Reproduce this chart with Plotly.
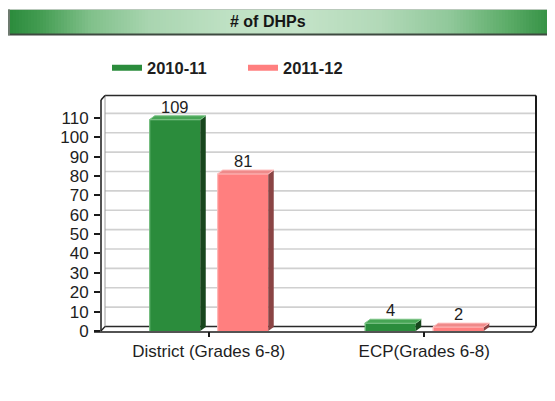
import plotly.graph_objects as go

# ---------------- data ----------------
categories = ["District (Grades 6-8)", "ECP(Grades 6-8)"]
series_names = ["2010-11", "2011-12"]
values_2010_11 = [109, 4]
values_2011_12 = [81, 2]
y_tick_values = [0, 10, 20, 30, 40, 50, 60, 70, 80, 90, 100, 110]
chart_title = "# of DHPs"

# ---------------- styling ----------------
# page body has an 8px margin, so the figure is placed at (8, 8) on screen
OFF = 8
SW, SH = 555, 401                      # screen size
W, H = SW - OFF, SH - OFF              # figure size
S_LEFT, S_RIGHT, S_TOP, S_BOTTOM = 101, 532, 100, 331   # plot area on screen
ML, MR, MT, MB = S_LEFT - OFF, SW - S_RIGHT, S_TOP - OFF, SH - S_BOTTOM
PW, PH = S_RIGHT - S_LEFT, S_BOTTOM - S_TOP
YMAX = 119.2
BARGAP, GROUPGAP = 0.369, 0.25
FONT = "Liberation Sans, Arial, sans-serif"
TXT = "#1e1e1e"

front = ["#2b8c3c", "#ff7f7f"]
side = ["#18461d", "#8a4444"]
top = ["#47a555", "#ef8a8a"]
edge = ["#7cc487", "#ffc0c0"]

series = [values_2010_11, values_2011_12]


def px_x(xp):
    return (xp - S_LEFT) / PW


def px_y(yp):
    return (S_BOTTOM - yp) / PH


def val_y(v):
    return v / YMAX


def cat_x(xd):
    return (xd + 0.5) / len(categories)


fig = go.Figure()
for i, (name, vals) in enumerate(zip(series_names, series)):
    fig.add_trace(go.Bar(x=categories, y=vals, name=name, marker_color=front[i],
                         marker_line_width=0, showlegend=False, hoverinfo="skip"))
for i, name in enumerate(series_names):
    fig.add_trace(go.Scatter(x=[None], y=[None], mode="lines", name=name,
                             line=dict(color=front[i], width=6)))

shapes = []
annotations = []

# ---- title bar (gradient strips) ----
stops = [(8, (0x2a, 0x8a, 0x3b)), (40, (0x43, 0x9c, 0x51)), (90, (0x80, 0xc0, 0x8a)),
         (150, (0xa9, 0xd5, 0xb0)), (230, (0xbf, 0xe1, 0xc4)), (300, (0xc4, 0xe3, 0xc8)),
         (380, (0xb2, 0xd9, 0xb8)), (450, (0x90, 0xc8, 0x9a)), (510, (0x5a, 0xab, 0x66)),
         (560, (0x2a, 0x8a, 0x3b))]


def grad(x):
    for (x0, c0), (x1, c1) in zip(stops[:-1], stops[1:]):
        if x0 <= x <= x1:
            t = (x - x0) / (x1 - x0)
            return "rgb(%d,%d,%d)" % tuple(round(a + (b - a) * t) for a, b in zip(c0, c1))
    return "rgb(42,138,59)"


step = 3
x = 10
while x < 558:
    shapes.append(dict(type="rect", xref="paper", yref="paper", layer="above",
                       x0=px_x(x), x1=px_x(x + step + 0.5), y0=px_y(34), y1=px_y(10),
                       fillcolor=grad(x + step / 2), line_width=0))
    x += step
shapes.append(dict(type="line", xref="paper", yref="paper", layer="above",
                   x0=px_x(8), x1=px_x(560), y0=px_y(9.5), y1=px_y(9.5),
                   line=dict(color="#b9c9bb", width=1)))
shapes.append(dict(type="line", xref="paper", yref="paper", layer="above",
                   x0=px_x(8), x1=px_x(560), y0=px_y(34.5), y1=px_y(34.5),
                   line=dict(color="#3e4a40", width=2)))
shapes.append(dict(type="line", xref="paper", yref="paper", layer="above",
                   x0=px_x(9), x1=px_x(9), y0=px_y(9.5), y1=px_y(35),
                   line=dict(color="#6d7a6f", width=2)))
annotations.append(dict(xref="paper", yref="paper", x=px_x(268), y=px_y(21.5),
                        text="<b>" + chart_title + "</b>", showarrow=False,
                        font=dict(family=FONT, size=16, color="#151515"),
                        xanchor="center", yanchor="middle"))

# ---- 3D frame / back wall ----
WX, WY = 4 / PW, 4.5 / PH
for v in y_tick_values[1:]:
    shapes.append(dict(type="line", xref="paper", yref="paper", layer="below",
                       x0=WX, x1=1 + WX, y0=val_y(v) + WY, y1=val_y(v) + WY,
                       line=dict(color="#d0d0d0", width=1.6)))
back_line = dict(color="#2a2a2a", width=1.5)
shapes += [
    dict(type="line", xref="paper", yref="paper", layer="below",
         x0=WX, x1=1 + WX, y0=val_y(YMAX) + WY, y1=val_y(YMAX) + WY, line=back_line),
    dict(type="line", xref="paper", yref="paper", layer="below",
         x0=1 + WX, x1=1 + WX, y0=WY, y1=val_y(YMAX) + WY, line=dict(color="#1a1a1a", width=2)),
    dict(type="line", xref="paper", yref="paper", layer="below",
         x0=WX, x1=1 + WX, y0=WY, y1=WY, line=back_line),
    dict(type="line", xref="paper", yref="paper", layer="below",
         x0=WX, x1=WX, y0=WY, y1=val_y(YMAX) + WY, line=dict(color="#9a9a9a", width=1)),
    dict(type="line", xref="paper", yref="paper", layer="above",
         x0=0, x1=0, y0=0, y1=val_y(YMAX), line=dict(color="#1a1a1a", width=1.5)),
    dict(type="line", xref="paper", yref="paper", layer="above",
         x0=0, x1=WX, y0=val_y(YMAX), y1=val_y(YMAX) + WY, line=dict(color="#1a1a1a", width=1.5)),
    dict(type="line", xref="paper", yref="paper", layer="above",
         x0=0, x1=WX, y0=0, y1=WY, line=dict(color="#1a1a1a", width=1.2)),
    dict(type="line", xref="paper", yref="paper", layer="above",
         x0=px_x(94), x1=1, y0=-1 / PH, y1=-1 / PH, line=dict(color="#1a1a1a", width=1.5)),
    dict(type="line", xref="paper", yref="paper", layer="above",
         x0=1, x1=1 + WX, y0=-1 / PH, y1=WY, line=dict(color="#1a1a1a", width=1.5)),
]

# ---- 3D bar faces + value labels ----
n = len(series)
slot = (1 - BARGAP) / n
bw = slot * (1 - GROUPGAP)
DX, DY = 5.5 / PW, 4 / PH
for i, vals in enumerate(series):
    for c, v in enumerate(vals):
        center = c - (1 - BARGAP) / 2 + slot * (i + 0.5)
        xl, xr = cat_x(center - bw / 2), cat_x(center + bw / 2)
        yt = val_y(v)
        shapes.append(dict(type="path", xref="paper", yref="paper", layer="above",
                           path=f"M{xr},0 L{xr},{yt} L{xr+DX},{yt+DY} L{xr+DX},{DY} Z",
                           fillcolor=side[i], line_width=0))
        shapes.append(dict(type="path", xref="paper", yref="paper", layer="above",
                           path=f"M{xl},{yt} L{xr},{yt} L{xr+DX},{yt+DY} L{xl+DX},{yt+DY} Z",
                           fillcolor=top[i], line=dict(color=edge[i], width=1)))
        shapes.append(dict(type="line", xref="paper", yref="paper", layer="above",
                           x0=xl + 0.5 / PW, x1=xl + 0.5 / PW, y0=0, y1=yt,
                           line=dict(color=edge[i], width=1)))
        annotations.append(dict(xref="paper", yref="paper", x=cat_x(center), y=yt,
                                text=str(v), showarrow=False, xanchor="center",
                                yanchor="bottom", yshift=2,
                                font=dict(family=FONT, size=16.5, color=TXT)))

fig.update_layout(
    width=W, height=H,
    margin=dict(l=ML, r=MR, t=MT, b=MB, pad=0),
    paper_bgcolor="white", plot_bgcolor="rgba(0,0,0,0)",
    barmode="group", bargap=BARGAP, bargroupgap=GROUPGAP,
    shapes=shapes, annotations=annotations,
    showlegend=True,
    legend=dict(orientation="h", xref="container", yref="container",
                x=(107 - OFF) / W, y=1 - (68 - OFF) / H, xanchor="left", yanchor="middle",
                entrywidth=91, entrywidthmode="pixels",
                font=dict(family=FONT, size=16.5, color=TXT, weight="bold"),
                bgcolor="rgba(0,0,0,0)", borderwidth=0, tracegroupgap=0),
    font=dict(family=FONT, size=16, color=TXT),
    xaxis=dict(type="category", categoryorder="array", categoryarray=categories,
               range=[-0.5, len(categories) - 0.5],
               showgrid=False, zeroline=False, showline=False,
               ticks="outside", ticklen=5, tickwidth=1.5, tickcolor="#1a1a1a",
               tickfont=dict(family=FONT, size=17, color=TXT)),
    yaxis=dict(range=[0, YMAX], tickvals=y_tick_values, showgrid=False, zeroline=False,
               showline=False, ticks="outside", ticklen=6, tickwidth=1.5,
               tickcolor="#1a1a1a", ticklabelstandoff=2,
               tickfont=dict(family=FONT, size=17, color=TXT)),
)

fig.write_html("out.html")
